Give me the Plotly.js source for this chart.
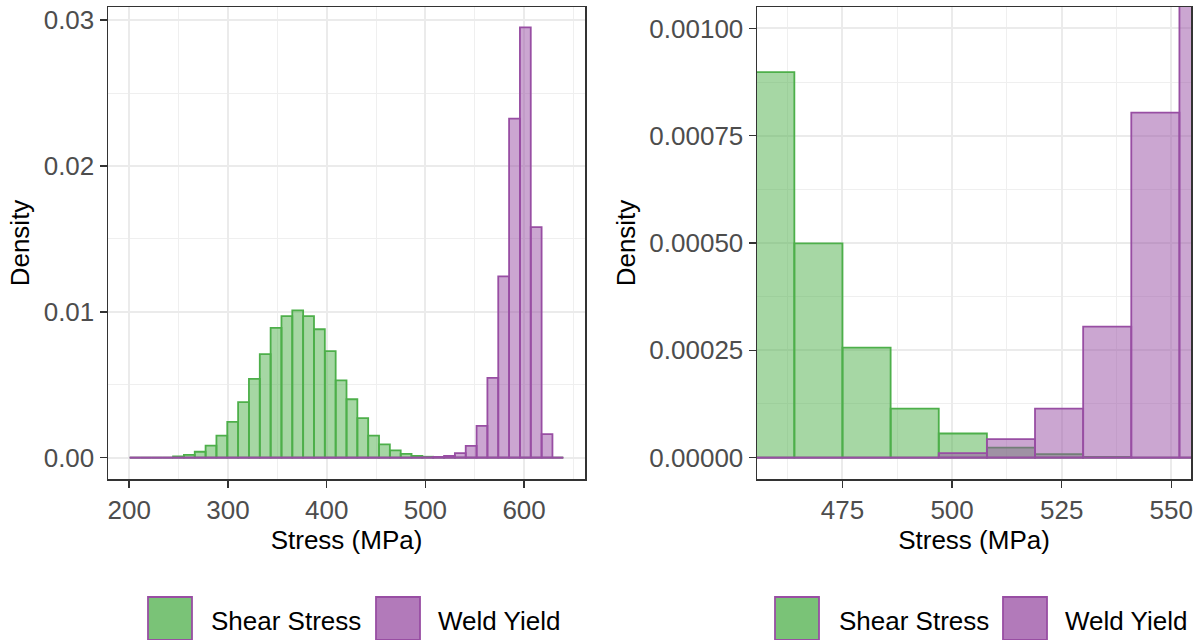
<!DOCTYPE html>
<html><head><meta charset="utf-8">
<script src="https://cdn.plot.ly/plotly-3.0.1.min.js"></script>
<style>html,body{margin:0;padding:0;background:#fff}#chart{width:1200px;height:640px}</style>
</head><body><div id="chart"></div>
<script>
// Histogram bins (shared by both series)
const BIN_START = 200.5;
const BIN_WIDTH = 10.98;

// Density per bin
const shearDensity = [
  0, 0, 0, 0, 0.00008, 0.00018, 0.0004, 0.00082, 0.0015, 0.00245,
  0.0038, 0.0054, 0.0071, 0.0089, 0.0097, 0.0101, 0.0097, 0.0088, 0.0073, 0.0053,
  0.0040, 0.0027, 0.0015, 0.000898, 0.000499, 0.000256, 0.000114, 0.000056, 0.0000233, 0.0000079,
  0.0000015, 0, 0, 0, 0, 0, 0, 0, 0, 0
];
const weldDensity = [
  0, 0, 0, 0, 0, 0, 0, 0, 0, 0,
  0, 0, 0, 0, 0, 0, 0, 0, 0, 0,
  0, 0, 0, 0, 0, 0, 0, 0.0000103, 0.000043, 0.000114,
  0.000305, 0.000804, 0.00218, 0.00547, 0.01243, 0.02325, 0.0295, 0.0158, 0.00161, 0
];
const seriesNames = ["Shear Stress", "Weld Yield"];
const xTitle = "Stress (MPa)";
const yTitle = "Density";

const binCenters = shearDensity.map((_, i) => BIN_START + (i + 0.5) * BIN_WIDTH);
const BIN_END = BIN_START + shearDensity.length * BIN_WIDTH;

const GREEN = "#4DAF4A", PURPLE = "#984EA3";
const GREEN_FILL = "rgba(77,175,74,0.5)", PURPLE_FILL = "rgba(152,78,163,0.5)";
const FONT = "Liberation Sans, Arial, sans-serif";

function panelTraces(xa, ya) {
  return [
    {type: "bar", x: binCenters, y: shearDensity, width: BIN_WIDTH, xaxis: xa, yaxis: ya,
     name: seriesNames[0], showlegend: false, hoverinfo: "x+y",
     marker: {color: GREEN_FILL, line: {color: GREEN, width: 1.8}}},
    {type: "bar", x: binCenters, y: weldDensity, width: BIN_WIDTH, xaxis: xa, yaxis: ya,
     name: seriesNames[1], showlegend: false, hoverinfo: "x+y",
     marker: {color: PURPLE_FILL, line: {color: PURPLE, width: 1.8}}},
    {type: "scatter", mode: "lines", x: [BIN_START, BIN_END], y: [0, 0], xaxis: xa, yaxis: ya,
     showlegend: false, hoverinfo: "skip", line: {color: PURPLE, width: 1.8}}
  ];
}

const data = panelTraces("x", "y").concat(panelTraces("x2", "y2"));

const W = 1200, H = 640;
const px = v => v / W, py = v => 1 - v / H;

function axisBase() {
  return {
    showline: true, mirror: true, linecolor: "#333333", linewidth: 1.5,
    ticks: "outside", ticklen: 7, tickwidth: 1.5, tickcolor: "#333333",
    tickfont: {family: FONT, size: 26, color: "#4D4D4D"},
    showgrid: true, gridcolor: "#EBEBEB", gridwidth: 2,
    zeroline: false, automargin: false
  };
}
const MINOR_GRID = {showgrid: true, gridcolor: "#EFEFEF", gridwidth: 1};

const yTop = py(7), yBot = py(479);

const layout = {
  width: W, height: H,
  margin: {l: 0, r: 0, t: 0, b: 0},
  paper_bgcolor: "#FFFFFF", plot_bgcolor: "#FFFFFF",
  barmode: "overlay", bargap: 0,
  showlegend: false,
  font: {family: FONT, color: "#000"},
  xaxis: Object.assign(axisBase(), {
    domain: [px(108), px(585)], range: [178.5, 661.7], anchor: "y",
    tickmode: "linear", tick0: 200, dtick: 100,
    minor: Object.assign({tick0: 150, dtick: 100}, MINOR_GRID),
    title: {text: xTitle, font: {family: FONT, size: 26, color: "#000"}, standoff: 0}
  }),
  yaxis: Object.assign(axisBase(), {
    domain: [yBot, yTop], range: [-0.00147, 0.0309], anchor: "x",
    tickmode: "linear", tick0: 0, dtick: 0.01, tickformat: ".2f",
    minor: Object.assign({tick0: 0.005, dtick: 0.01}, MINOR_GRID),
    title: {text: yTitle, font: {family: FONT, size: 26, color: "#000"}, standoff: 6}
  }),
  xaxis2: Object.assign(axisBase(), {
    domain: [px(757), px(1191)], range: [455.5, 554.5], anchor: "y2",
    tickmode: "linear", tick0: 475, dtick: 25,
    minor: Object.assign({tick0: 462.5, dtick: 25}, MINOR_GRID),
    title: {text: xTitle, font: {family: FONT, size: 26, color: "#000"}, standoff: 0}
  }),
  yaxis2: Object.assign(axisBase(), {
    domain: [yBot, yTop], range: [-0.00005, 0.00105], anchor: "x2",
    tickmode: "linear", tick0: 0, dtick: 0.00025, tickformat: ".5f",
    minor: Object.assign({tick0: 0.000125, dtick: 0.00025}, MINOR_GRID),
    title: {text: yTitle, font: {family: FONT, size: 26, color: "#000"}, standoff: 6}
  }),
  shapes: [],
  annotations: []
};

// Legends below each panel (large ggplot-style keys)
const legendSpecs = [
  {keys: [148, 376], texts: [209, 436]},
  {keys: [775, 1003], texts: [837, 1063]}
];
const keyFills = ["rgba(77,175,74,0.75)", "rgba(152,78,163,0.75)"];
legendSpecs.forEach(spec => {
  spec.keys.forEach((kx, i) => {
    layout.shapes.push({type: "rect", xref: "paper", yref: "paper",
      x0: px(kx), x1: px(kx + 44), y0: py(640), y1: py(597),
      fillcolor: keyFills[i], line: {color: PURPLE, width: 1.8}});
    layout.annotations.push({xref: "paper", yref: "paper", x: px(spec.texts[i]), y: py(621),
      xanchor: "left", yanchor: "middle", showarrow: false, text: seriesNames[i],
      font: {family: FONT, size: 26, color: "#000"}});
  });
});

Plotly.newPlot("chart", data, layout, {displayModeBar: false, staticPlot: true});
</script>
</body></html>
